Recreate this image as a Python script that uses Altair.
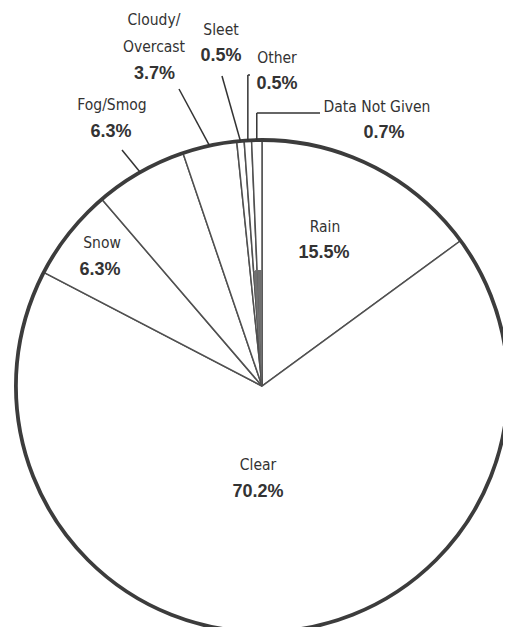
import math
import pandas as pd
import altair as alt

# ---- data ----
categories = ["Rain", "Clear", "Snow", "Fog/Smog", "Cloudy/Overcast", "Sleet", "Other", "Data Not Given"]
shares = [15.5, 70.2, 6.3, 6.3, 3.7, 0.5, 0.5, 0.7]
name_lines = [["Rain"], ["Clear"], ["Snow"], ["Fog/Smog"], ["Cloudy/", "Overcast"], ["Sleet"], ["Other"], ["Data Not Given"]]
pct_labels = ["15.5%", "70.2%", "6.3%", "6.3%", "3.7%", "0.5%", "0.5%", "0.7%"]

# ---- layout (chart pixel coordinates) ----
W, H = 495, 619
CX, CY, R = 254, 378, 246
LINE = 27
# first name-line position and percent position per category
name_pos = [(317, 219), (250, 457), (94, 235), (104, 97), (146, 12), (213, 22), (269, 50), (369, 99)]
pct_pos = [(316, 245), (250, 484), (92, 262), (103, 124), (146.5, 66), (213, 48), (269, 76), (376, 125)]
# leader line start (label end) per category
leader_start = {"Fog/Smog": (114, 142), "Cloudy/Overcast": (171, 81), "Sleet": (214, 68)}
bracket = {"Other": (242, 67), "Data Not Given": (312, 105)}

df = pd.DataFrame({"cat": categories, "share": shares, "idx": list(range(len(categories)))})

# mid angle of each slice (from the data) for leader lines
total = sum(shares)
cum = 0.0
mid = {}
for c, s in zip(categories, shares):
    mid[c] = (cum + s / 2) / total * 2 * math.pi
    cum += s

def rim(c):
    a = mid[c]
    return CX + R * math.sin(a), CY - R * math.cos(a)

segs = []
for c, (sx, sy) in leader_start.items():
    rx, ry = rim(c)
    segs.append({"x1": sx, "y1": sy, "x2": rx, "y2": ry})
for c, (ex, ey) in bracket.items():
    rx, ry = rim(c)
    segs.append({"x1": ex, "y1": ey, "x2": rx, "y2": ey})
    segs.append({"x1": rx, "y1": ey, "x2": rx, "y2": ry})
seg = pd.DataFrame(segs)

name_rows, pct_rows = [], []
for i, c in enumerate(categories):
    nx, ny = name_pos[i]
    for j, t in enumerate(name_lines[i]):
        name_rows.append({"t": t, "x": nx, "y": ny + j * LINE})
    px, py = pct_pos[i]
    pct_rows.append({"t": pct_labels[i], "x": px, "y": py})
names = pd.DataFrame(name_rows)
pcts = pd.DataFrame(pct_rows)

xs = alt.Scale(domain=[0, W], nice=False, zero=False)
ys = alt.Scale(domain=[0, H], reverse=True, nice=False, zero=False)

pie = alt.Chart(df).mark_arc(radius=R, fill="white", stroke="#505050", strokeWidth=1.5).encode(
    theta=alt.Theta("share:Q", stack=True),
    order=alt.Order("idx:Q"),
    x=alt.value(CX), y=alt.value(CY),
)

inner = alt.Chart(df).mark_arc(radius=116, strokeWidth=0).encode(
    theta=alt.Theta("share:Q", stack=True),
    order=alt.Order("idx:Q"),
    x=alt.value(CX), y=alt.value(CY),
    fill=alt.condition(alt.FieldOneOfPredicate(field="cat", oneOf=["Other", "Data Not Given"]),
                       alt.value("#707070"), alt.value("transparent")),
)

rim_layer = alt.Chart(pd.DataFrame({"k": [0]})).mark_arc(
    radius=R, theta=0, theta2=2 * math.pi, fillOpacity=0, stroke="#3c3c3c", strokeWidth=3.8
).encode(x=alt.value(CX), y=alt.value(CY))

rules = alt.Chart(seg).mark_rule(stroke="#333333", strokeWidth=1.5).encode(
    x=alt.X("x1:Q", scale=xs, axis=None),
    y=alt.Y("y1:Q", scale=ys, axis=None),
    x2="x2:Q", y2="y2:Q",
)

name_text = alt.Chart(names).mark_text(
    font="DejaVu Sans Condensed, sans-serif", fontSize=15.5,
    align="center", baseline="middle", color="#333333"
).encode(x=alt.X("x:Q", scale=xs, axis=None), y=alt.Y("y:Q", scale=ys, axis=None), text="t:N")

pct_text = alt.Chart(pcts).mark_text(
    font="Liberation Sans, Arial, sans-serif", fontSize=18, fontWeight="bold",
    align="center", baseline="middle", color="#333333"
).encode(x=alt.X("x:Q", scale=xs, axis=None), y=alt.Y("y:Q", scale=ys, axis=None), text="t:N")

chart = alt.layer(pie, inner, rim_layer, rules, name_text, pct_text).properties(
    width=W, height=H, padding=0, autosize=alt.AutoSizeParams(type="none")
).configure_view(strokeWidth=0)

chart.save("out.html", embed_options={"renderer": "svg", "actions": False})
